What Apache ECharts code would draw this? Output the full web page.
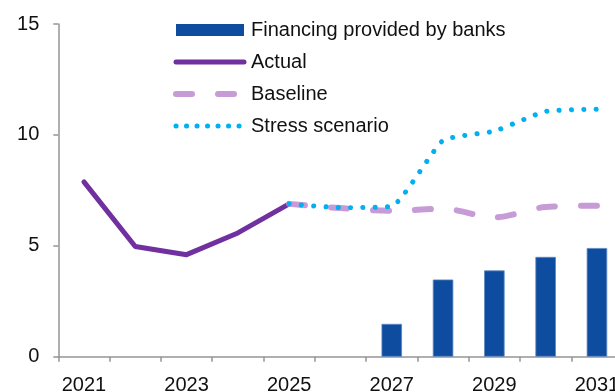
<!DOCTYPE html>
<html>
<head>
<meta charset="utf-8">
<script src="https://cdn.jsdelivr.net/npm/echarts@6/dist/echarts.min.js"></script>
<style>
  html, body { margin: 0; padding: 0; background: #ffffff; }
  #chart { width: 615px; height: 392px; }
</style>
</head>
<body>
<div id="chart"></div>
<script>
// Years on the horizontal axis
const years = ['2021', '2022', '2023', '2024', '2025', '2026', '2027', '2028', '2029', '2030', '2031'];

// Financing provided by banks (bars, projection years only)
const bankFinancing = [null, null, null, null, null, null, 1.48, 3.48, 3.89, 4.50, 4.90];

// Actual path up to 2025
const actual = [7.88, 4.97, 4.60, 5.58, 6.89, null, null, null, null, null, null];

// Baseline projection from 2025
const baseline = [null, null, null, null, 6.89, 6.70, 6.58, 6.67, 6.28, 6.75, 6.81];

// Stress scenario projection from 2025
const stress = [null, null, null, null, 6.89, 6.72, 6.78, 9.75, 10.17, 11.06, 11.16];

// Value axis ticks
const yMin = 0, yMax = 15, yStep = 5;

const FONT = '"Liberation Sans", Arial, sans-serif';
const C_BAR = '#0E4C9F';
const C_ACTUAL = '#7030A0';
const C_BASE = '#C79BD6';
const C_STRESS = '#00B0F0';
const C_AXIS = '#959595';

const chart = echarts.init(document.getElementById('chart'), null, { renderer: 'canvas' });

// line legend entries: show only the styled stroke, no marker
const hiddenMarker = { opacity: 0 };

chart.setOption({
  animation: false,
  backgroundColor: '#ffffff',
  grid: {
    left: 58.3,
    right: -7.6,
    top: 24,
    bottom: 35.3,
    containLabel: false,
    outerBoundsMode: 'none'
  },
  legend: {
    orient: 'vertical',
    left: 168,
    top: 15,
    itemWidth: 68,
    itemHeight: 12,
    itemGap: 12,
    textStyle: {
      fontFamily: FONT,
      fontSize: 20,
      lineHeight: 20,
      color: '#111111',
      padding: [0, 0, 0, 2]
    },
    data: [
      { name: 'Financing provided by banks', icon: 'rect', itemStyle: { borderWidth: 0 } },
      { name: 'Actual', itemStyle: hiddenMarker, lineStyle: { width: 5, cap: 'round' } },
      { name: 'Baseline', itemStyle: hiddenMarker, lineStyle: { width: 6, type: [16, 26], cap: 'round' } },
      { name: 'Stress scenario', itemStyle: hiddenMarker, lineStyle: { width: 5, type: [0.1, 10.4], cap: 'round' } }
    ]
  },
  xAxis: {
    type: 'category',
    data: years,
    boundaryGap: true,
    axisLine: { show: true, lineStyle: { color: C_AXIS, width: 1.5 } },
    axisTick: { show: true, interval: 0, length: 5, lineStyle: { color: C_AXIS, width: 1.5 } },
    axisLabel: {
      interval: 1,
      margin: 19,
      fontFamily: FONT,
      fontSize: 20,
      color: '#111111'
    },
    splitLine: { show: false }
  },
  yAxis: {
    type: 'value',
    min: yMin,
    max: yMax,
    interval: yStep,
    axisLine: { show: true, lineStyle: { color: C_AXIS, width: 1.5 } },
    axisTick: { show: true, length: 5, lineStyle: { color: C_AXIS, width: 1.5 } },
    axisLabel: {
      margin: 19,
      fontFamily: FONT,
      fontSize: 20,
      color: '#111111'
    },
    splitLine: { show: false }
  },
  series: [
    {
      name: 'Financing provided by banks',
      type: 'bar',
      data: bankFinancing,
      barWidth: 20.5,
      itemStyle: { color: C_BAR, borderColor: '#5d86c2', borderWidth: 0.8 },
      z: 1
    },
    {
      name: 'Actual',
      type: 'line',
      data: actual,
      symbol: 'none',
      smooth: false,
      lineStyle: { color: C_ACTUAL, width: 5, cap: 'round', join: 'round' },
      itemStyle: { color: C_ACTUAL },
      z: 2
    },
    {
      name: 'Baseline',
      type: 'line',
      data: baseline,
      symbol: 'none',
      smooth: 0.3,
      lineStyle: { color: C_BASE, width: 6, type: [16, 26], cap: 'round', join: 'round' },
      itemStyle: { color: C_BASE },
      z: 3
    },
    {
      name: 'Stress scenario',
      type: 'line',
      data: stress,
      symbol: 'none',
      smooth: 0.15,
      lineStyle: { color: C_STRESS, width: 5, type: [0.1, 12.2], cap: 'round', join: 'round' },
      itemStyle: { color: C_STRESS },
      z: 4
    }
  ]
});
</script>
</body>
</html>
